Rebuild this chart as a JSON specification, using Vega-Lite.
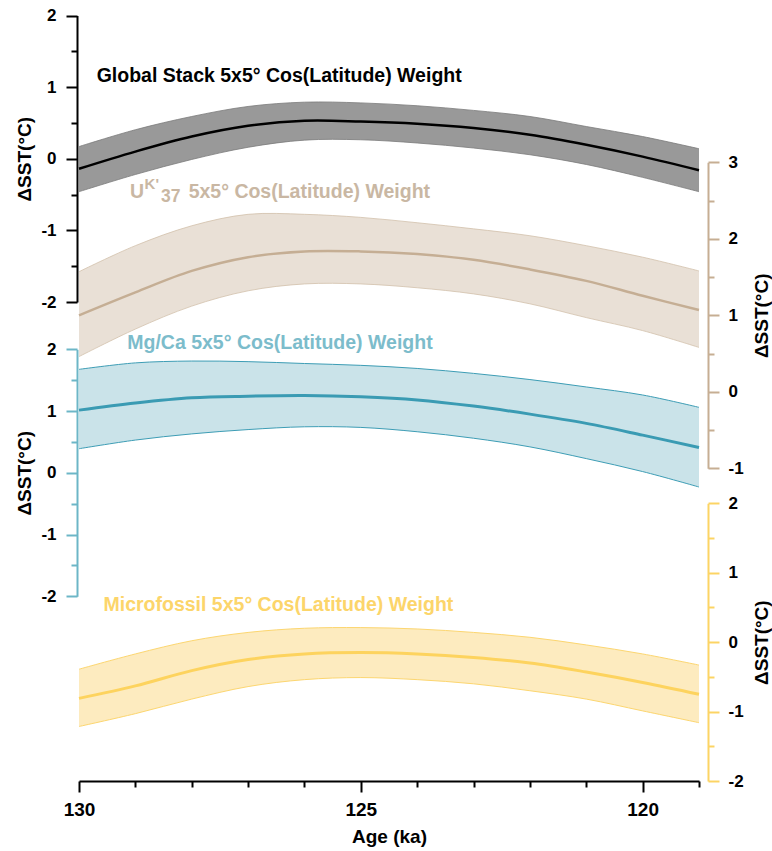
{
  "$schema": "https://vega.github.io/schema/vega-lite/v6.json",
  "width": 620,
  "height": 766,
  "autosize": {"type": "none"},
  "padding": {"left": 79, "top": 15, "right": 73, "bottom": 70},
  "config": {
    "view": {"stroke": null},
    "font": "Liberation Sans",
    "locale": {"number": {"decimal": ".", "thousands": ",", "grouping": [3], "currency": ["$", ""], "minus": "-"}},
    "axis": {
      "grid": false,
      "labelFontWeight": "bold",
      "labelFontSize": 17,
      "labelColor": "#000",
      "titleFontWeight": "bold",
      "titleFontSize": 19,
      "titleColor": "#000",
      "domainWidth": 2,
      "tickWidth": 2
    }
  },
  "datasets": {
    "black": [
      {"age": 130, "lo": -0.46, "mid": -0.14, "hi": 0.17},
      {"age": 129, "lo": -0.22, "mid": 0.10, "hi": 0.405},
      {"age": 128, "lo": -0.01, "mid": 0.31, "hi": 0.59},
      {"age": 127, "lo": 0.16, "mid": 0.46, "hi": 0.73},
      {"age": 126, "lo": 0.26, "mid": 0.53, "hi": 0.79},
      {"age": 125, "lo": 0.265, "mid": 0.52, "hi": 0.78},
      {"age": 124, "lo": 0.22, "mid": 0.49, "hi": 0.74},
      {"age": 123, "lo": 0.15, "mid": 0.43, "hi": 0.675},
      {"age": 122, "lo": 0.056, "mid": 0.335, "hi": 0.59},
      {"age": 121, "lo": -0.08, "mid": 0.195, "hi": 0.45},
      {"age": 120, "lo": -0.26, "mid": 0.03, "hi": 0.31},
      {"age": 119, "lo": -0.46, "mid": -0.16, "hi": 0.14}
    ],
    "tan": [
      {"age": 130, "lo": 0.46, "mid": 1.00, "hi": 1.57},
      {"age": 129, "lo": 0.82, "mid": 1.30, "hi": 1.91},
      {"age": 128, "lo": 1.12, "mid": 1.58, "hi": 2.17},
      {"age": 127, "lo": 1.32, "mid": 1.76, "hi": 2.32},
      {"age": 126, "lo": 1.41, "mid": 1.835, "hi": 2.32},
      {"age": 125, "lo": 1.41, "mid": 1.835, "hi": 2.28},
      {"age": 124, "lo": 1.36, "mid": 1.80, "hi": 2.21},
      {"age": 123, "lo": 1.28, "mid": 1.725, "hi": 2.13},
      {"age": 122, "lo": 1.15, "mid": 1.60, "hi": 2.04},
      {"age": 121, "lo": 0.97, "mid": 1.45, "hi": 1.91},
      {"age": 120, "lo": 0.80, "mid": 1.255, "hi": 1.76},
      {"age": 119, "lo": 0.58, "mid": 1.07, "hi": 1.58}
    ],
    "teal": [
      {"age": 130, "lo": 0.39, "mid": 1.015, "hi": 1.675},
      {"age": 129, "lo": 0.53, "mid": 1.13, "hi": 1.78},
      {"age": 128, "lo": 0.63, "mid": 1.215, "hi": 1.81},
      {"age": 127, "lo": 0.70, "mid": 1.24, "hi": 1.80},
      {"age": 126, "lo": 0.745, "mid": 1.25, "hi": 1.77},
      {"age": 125, "lo": 0.735, "mid": 1.23, "hi": 1.74},
      {"age": 124, "lo": 0.665, "mid": 1.18, "hi": 1.69},
      {"age": 123, "lo": 0.56, "mid": 1.08, "hi": 1.61},
      {"age": 122, "lo": 0.42, "mid": 0.95, "hi": 1.51},
      {"age": 121, "lo": 0.23, "mid": 0.80, "hi": 1.39},
      {"age": 120, "lo": 0.02, "mid": 0.61, "hi": 1.26},
      {"age": 119, "lo": -0.23, "mid": 0.41, "hi": 1.06}
    ],
    "yellow": [
      {"age": 130, "lo": -1.215, "mid": -0.81, "hi": -0.39},
      {"age": 129, "lo": -1.03, "mid": -0.63, "hi": -0.17},
      {"age": 128, "lo": -0.82, "mid": -0.41, "hi": 0.02},
      {"age": 127, "lo": -0.64, "mid": -0.25, "hi": 0.14},
      {"age": 126, "lo": -0.54, "mid": -0.17, "hi": 0.20},
      {"age": 125, "lo": -0.51, "mid": -0.15, "hi": 0.21},
      {"age": 124, "lo": -0.54, "mid": -0.17, "hi": 0.19},
      {"age": 123, "lo": -0.60, "mid": -0.22, "hi": 0.14},
      {"age": 122, "lo": -0.70, "mid": -0.30, "hi": 0.07},
      {"age": 121, "lo": -0.82, "mid": -0.43, "hi": -0.04},
      {"age": 120, "lo": -0.99, "mid": -0.58, "hi": -0.17},
      {"age": 119, "lo": -1.16, "mid": -0.75, "hi": -0.33}
    ],
    "one": [{"k": 1}]
  },
  "layer": [
    {
      "data": {"name": "black"},
      "mark": {"type": "area", "color": "#999999", "interpolate": "catmull-rom"},
      "encoding": {
        "x": {"field": "age", "type": "quantitative", "scale": {"domain": [130, 119], "nice": false, "zero": false},
              "axis": {"orient": "bottom", "title": "Age (ka)", "values": [130, 125, 120], "tickSize": 11, "domainColor": "#000", "tickColor": "#000", "labelFontSize": 19, "labelPadding": 8, "titlePadding": 8, "labelFlush": false}},
        "y": {"field": "lo", "type": "quantitative", "scale": {"domain": [-2, 2], "range": [287, 0.5], "nice": false, "zero": false},
              "axis": {"orient": "left", "offset": 2, "title": "ΔSST(°C)", "values": [-2, -1, 0, 1, 2], "tickSize": 11, "domainColor": "#000", "tickColor": "#000", "labelPadding": 10, "titlePadding": 6}},
        "y2": {"field": "hi"}
      }
    },
    {
      "data": {"name": "black"},
      "mark": {"type": "line", "color": "#7a7a7a", "strokeWidth": 0.8, "interpolate": "catmull-rom"},
      "encoding": {
        "x": {"field": "age", "type": "quantitative", "scale": {"domain": [130, 119], "nice": false, "zero": false},
              "axis": {"orient": "bottom", "title": null, "values": [129, 128, 127, 126, 124, 123, 122, 121, 119], "tickSize": 6, "labels": false, "domain": false, "tickColor": "#000"}},
        "y": {"field": "hi", "type": "quantitative", "scale": {"domain": [-2, 2], "range": [287, 0.5], "nice": false, "zero": false},
              "axis": {"orient": "left", "offset": 2, "title": null, "values": [-1.5, -0.5, 0.5, 1.5], "tickSize": 6, "labels": false, "domain": false, "tickColor": "#000"}}
      }
    },
    {
      "data": {"name": "black"},
      "mark": {"type": "line", "color": "#7a7a7a", "strokeWidth": 0.8, "interpolate": "catmull-rom"},
      "encoding": {
        "x": {"field": "age", "type": "quantitative", "axis": null},
        "y": {"field": "lo", "type": "quantitative", "scale": {"domain": [-2, 2], "range": [287, 0.5], "nice": false, "zero": false}, "axis": null}
      }
    },
    {
      "data": {"name": "black"},
      "mark": {"type": "line", "color": "#000000", "strokeWidth": 2.5, "interpolate": "catmull-rom"},
      "encoding": {
        "x": {"field": "age", "type": "quantitative", "axis": null},
        "y": {"field": "mid", "type": "quantitative", "scale": {"domain": [-2, 2], "range": [287, 0.5], "nice": false, "zero": false}, "axis": null}
      }
    },
    {
      "data": {"name": "one"},
      "mark": {"type": "text", "text": "Global Stack 5x5° Cos(Latitude) Weight", "align": "left", "baseline": "alphabetic", "fontSize": 19.5, "fontWeight": "bold", "color": "#000000"},
      "encoding": {
        "x": {"datum": 129.686, "type": "quantitative", "axis": null},
        "y": {"datum": 1.075, "type": "quantitative", "scale": {"domain": [-2, 2], "range": [287, 0.5], "nice": false, "zero": false}, "axis": null}
      }
    },
    {
      "data": {"name": "tan"},
      "mark": {"type": "area", "color": "#e9e0d6", "interpolate": "catmull-rom"},
      "encoding": {
        "x": {"field": "age", "type": "quantitative", "axis": null},
        "y": {"field": "lo", "type": "quantitative", "scale": {"domain": [-1, 3], "range": [453.3, 147.3], "nice": false, "zero": false},
              "axis": {"orient": "right", "offset": 9, "title": "ΔSST(°C)", "titleAngle": 270, "titleBaseline": "top", "values": [-1, 0, 1, 2, 3], "tickSize": 11, "domainColor": "#c6ae93", "tickColor": "#c6ae93", "labelPadding": 9, "titlePadding": 9}},
        "y2": {"field": "hi"}
      }
    },
    {
      "data": {"name": "tan"},
      "mark": {"type": "line", "color": "#d2c0ab", "strokeWidth": 0.8, "interpolate": "catmull-rom"},
      "encoding": {
        "x": {"field": "age", "type": "quantitative", "axis": null},
        "y": {"field": "hi", "type": "quantitative", "scale": {"domain": [-1, 3], "range": [453.3, 147.3], "nice": false, "zero": false},
              "axis": {"orient": "right", "offset": 9, "title": null, "values": [-0.5, 0.5, 1.5, 2.5], "tickSize": 6, "labels": false, "domain": false, "tickColor": "#c6ae93"}}
      }
    },
    {
      "data": {"name": "tan"},
      "mark": {"type": "line", "color": "#d2c0ab", "strokeWidth": 0.8, "interpolate": "catmull-rom"},
      "encoding": {
        "x": {"field": "age", "type": "quantitative", "axis": null},
        "y": {"field": "lo", "type": "quantitative", "scale": {"domain": [-1, 3], "range": [453.3, 147.3], "nice": false, "zero": false}, "axis": null}
      }
    },
    {
      "data": {"name": "tan"},
      "mark": {"type": "line", "color": "#c5ae94", "strokeWidth": 2.5, "interpolate": "catmull-rom"},
      "encoding": {
        "x": {"field": "age", "type": "quantitative", "axis": null},
        "y": {"field": "mid", "type": "quantitative", "scale": {"domain": [-1, 3], "range": [453.3, 147.3], "nice": false, "zero": false}, "axis": null}
      }
    },
    {
      "data": {"name": "one"},
      "mark": {"type": "text", "text": "U", "align": "left", "baseline": "alphabetic", "fontSize": 19.5, "fontWeight": "bold", "color": "#c9b7a3"},
      "encoding": {
        "x": {"datum": 129.094, "type": "quantitative", "axis": null},
        "y": {"datum": 2.532, "type": "quantitative", "scale": {"domain": [-1, 3], "range": [453.3, 147.3], "nice": false, "zero": false}, "axis": null}
      }
    },
    {
      "data": {"name": "one"},
      "mark": {"type": "text", "text": "K'", "align": "left", "baseline": "alphabetic", "fontSize": 15, "fontWeight": "bold", "color": "#c9b7a3"},
      "encoding": {
        "x": {"datum": 128.837, "type": "quantitative", "axis": null},
        "y": {"datum": 2.65, "type": "quantitative", "scale": {"domain": [-1, 3], "range": [453.3, 147.3], "nice": false, "zero": false}, "axis": null}
      }
    },
    {
      "data": {"name": "one"},
      "mark": {"type": "text", "text": "37", "align": "left", "baseline": "alphabetic", "fontSize": 17.5, "fontWeight": "bold", "color": "#c9b7a3"},
      "encoding": {
        "x": {"datum": 128.544, "type": "quantitative", "axis": null},
        "y": {"datum": 2.486, "type": "quantitative", "scale": {"domain": [-1, 3], "range": [453.3, 147.3], "nice": false, "zero": false}, "axis": null}
      }
    },
    {
      "data": {"name": "one"},
      "mark": {"type": "text", "text": "5x5° Cos(Latitude) Weight", "align": "left", "baseline": "alphabetic", "fontSize": 19.5, "fontWeight": "bold", "color": "#c9b7a3"},
      "encoding": {
        "x": {"datum": 128.055, "type": "quantitative", "axis": null},
        "y": {"datum": 2.528, "type": "quantitative", "scale": {"domain": [-1, 3], "range": [453.3, 147.3], "nice": false, "zero": false}, "axis": null}
      }
    },
    {
      "data": {"name": "teal"},
      "mark": {"type": "area", "color": "#cae3e9", "interpolate": "catmull-rom"},
      "encoding": {
        "x": {"field": "age", "type": "quantitative", "axis": null},
        "y": {"field": "lo", "type": "quantitative", "scale": {"domain": [-2, 2], "range": [581.3, 334.3], "nice": false, "zero": false},
              "axis": {"orient": "left", "offset": 2, "title": "ΔSST(°C)", "values": [-2, -1, 0, 1, 2], "tickSize": 11, "domainColor": "#6cb6c7", "tickColor": "#6cb6c7", "labelPadding": 10, "titlePadding": 6}},
        "y2": {"field": "hi"}
      }
    },
    {
      "data": {"name": "teal"},
      "mark": {"type": "line", "color": "#3d9db5", "strokeWidth": 1, "interpolate": "catmull-rom"},
      "encoding": {
        "x": {"field": "age", "type": "quantitative", "axis": null},
        "y": {"field": "hi", "type": "quantitative", "scale": {"domain": [-2, 2], "range": [581.3, 334.3], "nice": false, "zero": false},
              "axis": {"orient": "left", "offset": 2, "title": null, "values": [-1.5, -0.5, 0.5, 1.5], "tickSize": 6, "labels": false, "domain": false, "tickColor": "#6cb6c7"}}
      }
    },
    {
      "data": {"name": "teal"},
      "mark": {"type": "line", "color": "#3d9db5", "strokeWidth": 1, "interpolate": "catmull-rom"},
      "encoding": {
        "x": {"field": "age", "type": "quantitative", "axis": null},
        "y": {"field": "lo", "type": "quantitative", "scale": {"domain": [-2, 2], "range": [581.3, 334.3], "nice": false, "zero": false}, "axis": null}
      }
    },
    {
      "data": {"name": "teal"},
      "mark": {"type": "line", "color": "#3a9bb3", "strokeWidth": 3, "interpolate": "catmull-rom"},
      "encoding": {
        "x": {"field": "age", "type": "quantitative", "axis": null},
        "y": {"field": "mid", "type": "quantitative", "scale": {"domain": [-2, 2], "range": [581.3, 334.3], "nice": false, "zero": false}, "axis": null}
      }
    },
    {
      "data": {"name": "one"},
      "mark": {"type": "text", "text": "Mg/Ca 5x5° Cos(Latitude) Weight", "align": "left", "baseline": "alphabetic", "fontSize": 19.5, "fontWeight": "bold", "color": "#7cbccb"},
      "encoding": {
        "x": {"datum": 129.144, "type": "quantitative", "axis": null},
        "y": {"datum": 2.003, "type": "quantitative", "scale": {"domain": [-2, 2], "range": [581.3, 334.3], "nice": false, "zero": false}, "axis": null}
      }
    },
    {
      "data": {"name": "yellow"},
      "mark": {"type": "area", "color": "#fdebbf", "interpolate": "catmull-rom"},
      "encoding": {
        "x": {"field": "age", "type": "quantitative", "axis": null},
        "y": {"field": "lo", "type": "quantitative", "scale": {"domain": [-2, 2], "range": [766, 488.3], "nice": false, "zero": false},
              "axis": {"orient": "right", "offset": 9, "title": "ΔSST(°C)", "titleAngle": 270, "titleBaseline": "top", "values": [-2, -1, 0, 1, 2], "tickSize": 11, "domainColor": "#fcd464", "tickColor": "#fcd464", "labelPadding": 9, "titlePadding": 9}},
        "y2": {"field": "hi"}
      }
    },
    {
      "data": {"name": "yellow"},
      "mark": {"type": "line", "color": "#fcd670", "strokeWidth": 1, "interpolate": "catmull-rom"},
      "encoding": {
        "x": {"field": "age", "type": "quantitative", "axis": null},
        "y": {"field": "hi", "type": "quantitative", "scale": {"domain": [-2, 2], "range": [766, 488.3], "nice": false, "zero": false},
              "axis": {"orient": "right", "offset": 9, "title": null, "values": [-1.5, -0.5, 0.5, 1.5], "tickSize": 6, "labels": false, "domain": false, "tickColor": "#fcd464"}}
      }
    },
    {
      "data": {"name": "yellow"},
      "mark": {"type": "line", "color": "#fcd670", "strokeWidth": 1, "interpolate": "catmull-rom"},
      "encoding": {
        "x": {"field": "age", "type": "quantitative", "axis": null},
        "y": {"field": "lo", "type": "quantitative", "scale": {"domain": [-2, 2], "range": [766, 488.3], "nice": false, "zero": false}, "axis": null}
      }
    },
    {
      "data": {"name": "yellow"},
      "mark": {"type": "line", "color": "#fdd35e", "strokeWidth": 3, "interpolate": "catmull-rom"},
      "encoding": {
        "x": {"field": "age", "type": "quantitative", "axis": null},
        "y": {"field": "mid", "type": "quantitative", "scale": {"domain": [-2, 2], "range": [766, 488.3], "nice": false, "zero": false}, "axis": null}
      }
    },
    {
      "data": {"name": "one"},
      "mark": {"type": "text", "text": "Microfossil 5x5° Cos(Latitude) Weight", "align": "left", "baseline": "alphabetic", "fontSize": 19.5, "fontWeight": "bold", "color": "#fcd56a"},
      "encoding": {
        "x": {"datum": 129.565, "type": "quantitative", "axis": null},
        "y": {"datum": 0.449, "type": "quantitative", "scale": {"domain": [-2, 2], "range": [766, 488.3], "nice": false, "zero": false}, "axis": null}
      }
    }
  ],
  "resolve": {"scale": {"y": "independent"}, "axis": {"x": "independent", "y": "independent"}}
}
